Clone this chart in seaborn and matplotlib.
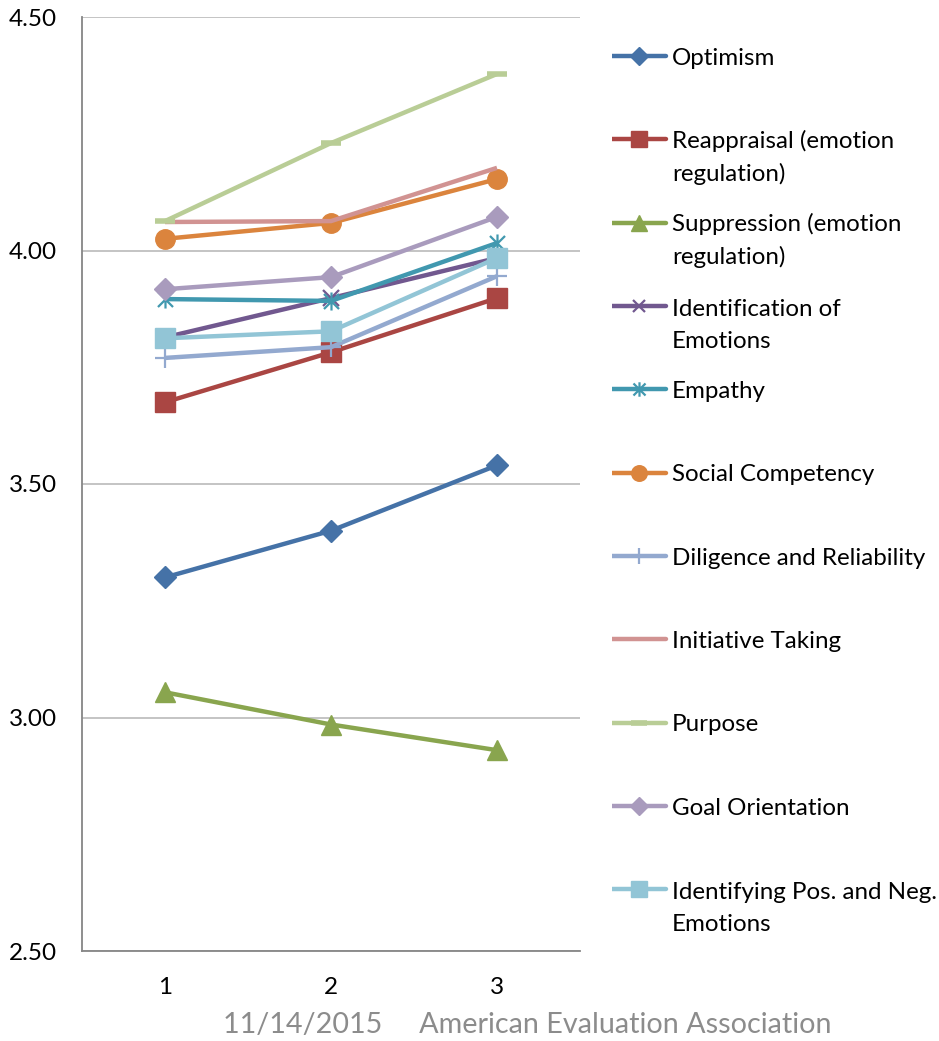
import numpy as np
import pandas as pd
import matplotlib
matplotlib.use("Agg")
import matplotlib.pyplot as plt
from matplotlib.path import Path
import seaborn as sns

# data
waves = [1, 2, 3]
optimism = [3.30, 3.40, 3.54]
reappraisal = [3.675, 3.782, 3.898]
suppression = [3.054, 2.985, 2.930]
identification = [3.814, 3.898, 3.984]
empathy = [3.896, 3.892, 4.016]
social = [4.025, 4.059, 4.153]
diligence = [3.770, 3.793, 3.945]
initiative = [4.061, 4.063, 4.177]
purpose = [4.063, 4.230, 4.378]
goal = [3.917, 3.943, 4.072]
posneg = [3.812, 3.827, 3.984]

names = ["Optimism", "Reappraisal (emotion\nregulation)",
         "Suppression (emotion\nregulation)", "Identification of\nEmotions",
         "Empathy", "Social Competency", "Diligence and Reliability",
         "Initiative Taking", "Purpose", "Goal Orientation",
         "Identifying Pos. and Neg.\nEmotions"]
series = [optimism, reappraisal, suppression, identification, empathy, social,
          diligence, initiative, purpose, goal, posneg]

colors = ["#4572A7", "#AA4643", "#89A54E", "#71588F", "#4198AF", "#DB843D",
          "#93A9CF", "#D19392", "#B9CD96", "#A99BBD", "#92C5D6"]

star = Path([(-1, -1), (1, 1), (-1, 1), (1, -1), (0, -1.2), (0, 1.2)],
            [Path.MOVETO, Path.LINETO, Path.MOVETO, Path.LINETO, Path.MOVETO, Path.LINETO])
# marker, size, edge width, filled
mk = [("D", 11, 1, True), ("s", 14, 1, True), ("^", 14, 1, True), ("x", 11, 1.6, False),
      (star, 13, 1.6, False), ("o", 14, 1, True), ("+", 14, 1.6, False), (None, 0, 0, True),
      ("_", 14, 4, False), ("D", 11, 1, True), ("s", 14, 1, True)]

rows = []
for n, vals in zip(names, series):
    for w, v in zip(waves, vals):
        rows.append({"series": n, "wave": w, "score": v})
df = pd.DataFrame(rows)

sns.set_style("white")
plt.rcParams["font.family"] = ["Lato", "DejaVu Sans"]

fig = plt.figure(figsize=(9.39, 10.41), dpi=100)
ax = fig.add_axes([82 / 939, 90 / 1041, 498 / 939, 934 / 1041])

for i, n in enumerate(names):
    m, ms, mew, filled = mk[i]
    sub = df[df["series"] == n]
    sns.lineplot(data=sub, x="wave", y="score", ax=ax, color=colors[i], lw=3.2,
                 marker=m, markersize=ms, markeredgewidth=mew,
                 markeredgecolor=colors[i],
                 markerfacecolor=colors[i] if filled else "none",
                 solid_capstyle="butt", zorder=3 + i, legend=False)

ax.set_xlim(0.5, 3.5)
ax.set_ylim(2.5, 4.5)
ax.set_xticks(waves)
ax.set_yticks([2.5, 3.0, 3.5, 4.0, 4.5])
ax.set_yticklabels([f"{t:.2f}" for t in [2.5, 3.0, 3.5, 4.0, 4.5]])
ax.set_xlabel("")
ax.set_ylabel("")
ax.tick_params(axis="both", length=0, labelsize=17.5, colors="#000000")
ax.tick_params(axis="y", pad=18)
ax.tick_params(axis="x", pad=19)
ax.grid(axis="y", color="#BFBFBF", lw=1.3)
ax.grid(axis="x", visible=False)
for s in ["top", "right"]:
    ax.spines[s].set_visible(False)
for s in ["left", "bottom"]:
    ax.spines[s].set_color("#868686")
    ax.spines[s].set_linewidth(1.3)

# legend drawn in its own axes, one evenly spaced slot per series
lax = fig.add_axes([612 / 939, 110 / 1041, 327 / 939, 916.7 / 1041])
lax.set_xlim(0, 327)
lax.set_ylim(len(names) - 0.5, -0.5)
lax.axis("off")
for i, n in enumerate(names):
    m, ms, mew, filled = mk[i]
    lax.plot([0, 27, 54], [i, i, i], color=colors[i], lw=3.2, solid_capstyle="round",
             marker=m, markevery=[1], markersize=ms * 0.8, markeredgewidth=mew,
             markeredgecolor=colors[i], markerfacecolor=colors[i] if filled else "none")
    # baseline sits on the last line, so push extra lines below the key
    extra = n.count("\n")
    lax.annotate(n, (60, i), xytext=(0, -6.2 - 23.8 * extra), textcoords="offset points",
                 fontsize=17.4, va="baseline", ha="left",
                 linespacing=1.62, color="#000000")

fig.text(527 / 939, 1 - 1025 / 1041, "11/14/2015     American Evaluation Association",
         ha="center", va="center", fontsize=20.7, color="#8C8C8C")

fig.savefig("out.png", dpi=100)
